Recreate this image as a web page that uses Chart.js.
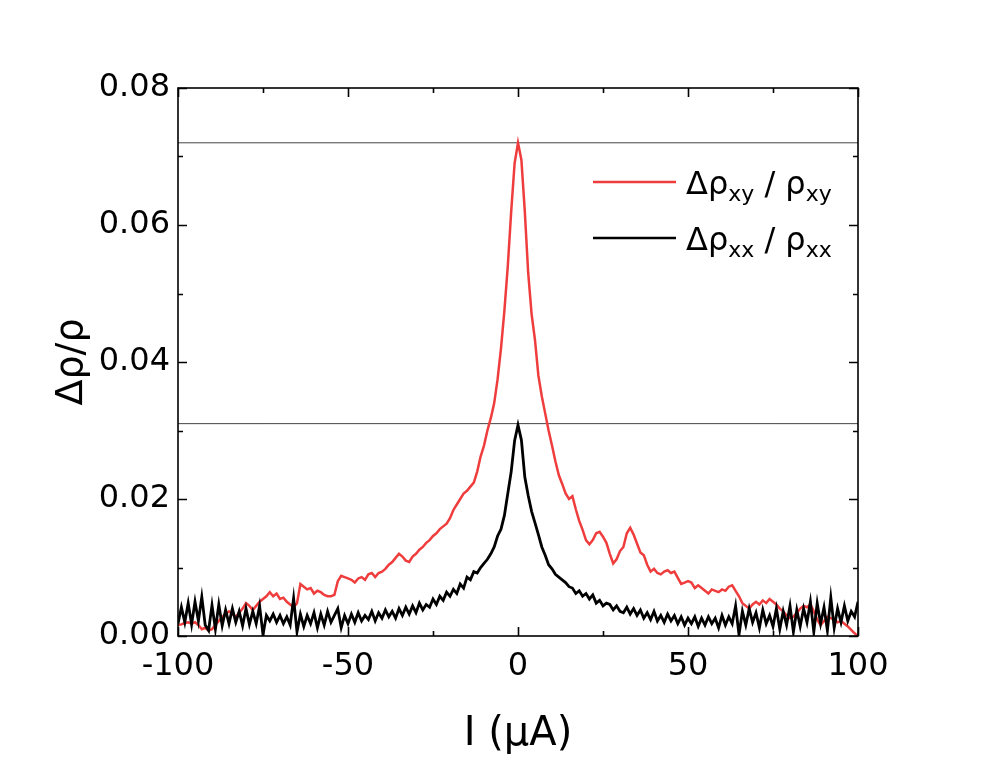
<!DOCTYPE html>
<html>
<head>
<meta charset="utf-8">
<title>Δρ/ρ vs I</title>
<script src="https://cdn.jsdelivr.net/npm/chart.js@4.4.1/dist/chart.umd.min.js"></script>
<style>
  html, body { margin: 0; padding: 0; background: #fff; }
  #wrap { width: 997px; height: 763px; position: relative; }
</style>
</head>
<body>
<div id="wrap"><canvas id="chart" width="997" height="763"></canvas></div>
<script>
// current, µA (1 µA steps)
const currents = [
  -100,-99,-98,-97,-96,-95,-94,-93,-92,-91,-90,-89,-88,-87,-86,-85,-84,-83,-82,-81,
  -80,-79,-78,-77,-76,-75,-74,-73,-72,-71,-70,-69,-68,-67,-66,-65,-64,-63,-62,-61,
  -60,-59,-58,-57,-56,-55,-54,-53,-52,-51,-50,-49,-48,-47,-46,-45,-44,-43,-42,-41,
  -40,-39,-38,-37,-36,-35,-34,-33,-32,-31,-30,-29,-28,-27,-26,-25,-24,-23,-22,-21,
  -20,-19,-18,-17,-16,-15,-14,-13,-12,-11,-10,-9,-8,-7,-6,-5,-4,-3,-2,-1,
  0,1,2,3,4,5,6,7,8,9,10,11,12,13,14,15,16,17,18,19,
  20,21,22,23,24,25,26,27,28,29,30,31,32,33,34,35,36,37,38,39,
  40,41,42,43,44,45,46,47,48,49,50,51,52,53,54,55,56,57,58,59,
  60,61,62,63,64,65,66,67,68,69,70,71,72,73,74,75,76,77,78,79,
  80,81,82,83,84,85,86,87,88,89,90,91,92,93,94,95,96,97,98,99,
  100
];

// Δρxy / ρxy
const rhoXY = [
  0.0016,0.0017,0.0019,0.0020,0.0018,0.0020,0.0016,0.0010,0.0012,0.0008,
  0.0010,0.0016,0.0022,0.0028,0.0032,0.0036,0.0032,0.0028,0.0034,0.0040,
  0.0048,0.0044,0.0038,0.0044,0.0050,0.0054,0.0058,0.0064,0.0058,0.0062,
  0.0054,0.0056,0.0050,0.0046,0.0042,0.0048,0.0076,0.0072,0.0068,0.0070,
  0.0062,0.0066,0.0064,0.0060,0.0058,0.0058,0.0060,0.0080,0.0088,0.0086,
  0.0084,0.0082,0.0078,0.0084,0.0086,0.0082,0.0090,0.0092,0.0086,0.0092,
  0.0094,0.0098,0.0104,0.0108,0.0114,0.0120,0.0116,0.0110,0.0108,0.0116,
  0.0120,0.0126,0.0130,0.0136,0.0140,0.0146,0.0150,0.0156,0.0160,0.0164,
  0.0172,0.0184,0.0192,0.0200,0.0208,0.0212,0.0218,0.0224,0.0240,0.0262,
  0.0278,0.0300,0.0318,0.0340,0.0375,0.0420,0.0475,0.0540,0.0620,0.0690,
  0.0720,
  0.0695,0.0620,0.0530,0.0470,0.0432,0.0380,0.0350,0.0325,0.0300,0.0278,
  0.0255,0.0235,0.0222,0.0208,0.0200,0.0204,0.0185,0.0168,0.0155,0.0140,
  0.0134,0.0140,0.0150,0.0152,0.0145,0.0136,0.0120,0.0106,0.0112,0.0124,
  0.0130,0.0150,0.0158,0.0148,0.0135,0.0122,0.0118,0.0104,0.0094,0.0098,
  0.0092,0.0090,0.0094,0.0096,0.0092,0.0094,0.0085,0.0076,0.0078,0.0080,
  0.0078,0.0070,0.0074,0.0070,0.0066,0.0062,0.0068,0.0066,0.0064,0.0068,
  0.0066,0.0072,0.0074,0.0066,0.0058,0.0048,0.0044,0.0040,0.0046,0.0050,
  0.0046,0.0052,0.0048,0.0054,0.0050,0.0046,0.0040,0.0036,0.0030,0.0026,
  0.0028,0.0034,0.0040,0.0044,0.0042,0.0046,0.0036,0.0024,0.0016,0.0022,
  0.0028,0.0026,0.0024,0.0020,0.0022,0.0018,0.0014,0.0009,0.0004,0.0000
];

// Δρxx / ρxx
const rhoXX = [
  0.0018,0.0042,0.0020,0.0048,0.0017,0.0050,0.0022,0.0057,0.0016,0.0008,
  0.0045,0.0010,0.0046,0.0015,0.0038,0.0018,0.0040,0.0020,0.0036,0.0015,
  0.0040,0.0017,0.0036,0.0018,0.0044,0.0002,0.0030,0.0022,0.0032,0.0020,
  0.0030,0.0018,0.0028,0.0016,0.0055,0.0006,0.0032,0.0014,0.0030,0.0018,
  0.0034,0.0012,0.0032,0.0016,0.0036,0.0020,0.0030,0.0040,0.0012,0.0030,
  0.0018,0.0032,0.0020,0.0034,0.0022,0.0030,0.0024,0.0036,0.0022,0.0034,
  0.0026,0.0038,0.0028,0.0036,0.0026,0.0040,0.0030,0.0042,0.0032,0.0044,
  0.0034,0.0048,0.0038,0.0046,0.0042,0.0054,0.0046,0.0058,0.0052,0.0064,
  0.0058,0.0068,0.0062,0.0076,0.0070,0.0086,0.0082,0.0094,0.0092,0.0100,
  0.0106,0.0112,0.0120,0.0130,0.0146,0.0156,0.0176,0.0208,0.0240,0.0285,
  0.0308,
  0.0286,0.0232,0.0205,0.0182,0.0165,0.0148,0.0130,0.0118,0.0104,0.0098,
  0.0090,0.0086,0.0082,0.0078,0.0072,0.0070,0.0062,0.0066,0.0058,0.0062,
  0.0054,0.0060,0.0048,0.0052,0.0044,0.0048,0.0046,0.0038,0.0044,0.0036,
  0.0034,0.0042,0.0032,0.0040,0.0030,0.0038,0.0026,0.0034,0.0024,0.0036,
  0.0022,0.0030,0.0020,0.0032,0.0022,0.0030,0.0018,0.0028,0.0016,0.0026,
  0.0018,0.0028,0.0014,0.0026,0.0016,0.0028,0.0018,0.0026,0.0012,0.0030,
  0.0016,0.0028,0.0018,0.0044,0.0002,0.0036,0.0016,0.0040,0.0020,0.0034,
  0.0012,0.0038,0.0018,0.0030,0.0014,0.0040,0.0010,0.0036,0.0016,0.0044,
  0.0006,0.0038,0.0014,0.0040,0.0020,0.0050,0.0006,0.0048,0.0018,0.0042,
  0.0008,0.0056,0.0012,0.0040,0.0020,0.0044,0.0022,0.0036,0.0028,0.0050
];

// horizontal guide lines at the two peak heights
const refLevels = [0.072, 0.031];

const xMajorTicks = [-100, -50, 0, 50, 100];
const xMinorTicks = [-75, -25, 25, 75];
const yMajorTicks = [0, 0.02, 0.04, 0.06, 0.08];
const yMinorTicks = [0.01, 0.03, 0.05, 0.07];

const FONT = "'DejaVu Sans', 'Liberation Sans', sans-serif";
const RED = '#ef3d3d';

const toPoints = (ys) => ys.map((v, i) => ({ x: currents[i], y: v }));

// frame with inward ticks on all four sides
const framePlugin = {
  id: 'frame',
  afterDatasetsDraw(chart) {
    const { ctx, chartArea: a, scales: { x, y } } = chart;
    ctx.save();
    ctx.strokeStyle = '#000';
    ctx.lineWidth = 1.6;
    ctx.strokeRect(a.left, a.top, a.right - a.left, a.bottom - a.top);
    ctx.beginPath();
    const xt = (v, len) => {
      const px = Math.round(x.getPixelForValue(v)) + 0.5;
      ctx.moveTo(px, a.bottom); ctx.lineTo(px, a.bottom - len);
      ctx.moveTo(px, a.top); ctx.lineTo(px, a.top + len);
    };
    const yt = (v, len) => {
      const py = Math.round(y.getPixelForValue(v)) + 0.5;
      ctx.moveTo(a.left, py); ctx.lineTo(a.left + len, py);
      ctx.moveTo(a.right, py); ctx.lineTo(a.right - len, py);
    };
    xMajorTicks.forEach((v) => xt(v, 9));
    xMinorTicks.forEach((v) => xt(v, 5));
    yMajorTicks.forEach((v) => yt(v, 9));
    yMinorTicks.forEach((v) => yt(v, 5));
    ctx.stroke();
    ctx.restore();
  },
};

// legend with subscripts
const legendPlugin = {
  id: 'subLegend',
  afterDraw(chart) {
    const { ctx } = chart;
    const items = [
      { color: RED, sub: 'xy', y: 182 },
      { color: '#000', sub: 'xx', y: 238 },
    ];
    ctx.save();
    items.forEach((it) => {
      ctx.strokeStyle = it.color;
      ctx.lineWidth = 2.5;
      ctx.beginPath();
      ctx.moveTo(593, it.y);
      ctx.lineTo(676, it.y);
      ctx.stroke();
      ctx.fillStyle = '#000';
      ctx.textBaseline = 'alphabetic';
      let cx = 686;
      const base = it.y + 12;
      const part = (txt, size, dy) => {
        ctx.font = size + 'px ' + FONT;
        ctx.fillText(txt, cx, base + dy);
        cx += ctx.measureText(txt).width;
      };
      part('Δρ', 32, 0);
      part(it.sub, 22, 7);
      part(' / ρ', 32, 0);
      part(it.sub, 22, 7);
    });
    ctx.restore();
  },
};

new Chart(document.getElementById('chart'), {
  type: 'line',
  data: {
    datasets: [
      {
        label: 'Δρxx / ρxx',
        data: toPoints(rhoXX),
        borderColor: '#000',
        borderWidth: 2.8,
        pointRadius: 0,
        order: 0,
      },
      {
        label: 'Δρxy / ρxy',
        data: toPoints(rhoXY),
        borderColor: RED,
        borderWidth: 2.5,
        pointRadius: 0,
        order: 1,
      },
      ...refLevels.map((lvl) => ({
        label: 'ref',
        data: [{ x: -100, y: lvl }, { x: 100, y: lvl }],
        borderColor: '#444',
        borderWidth: 1,
        pointRadius: 0,
        order: 2,
      })),
    ],
  },
  options: {
    responsive: false,
    animation: false,
    layout: { padding: { left: 45, right: 139, top: 88, bottom: 0 } },
    plugins: { legend: { display: false }, tooltip: { enabled: false } },
    scales: {
      x: {
        type: 'linear',
        min: -100,
        max: 100,
        afterFit: (s) => { s.height = 127; },
        afterBuildTicks: (s) => { s.ticks = xMajorTicks.map((v) => ({ value: v })); },
        grid: { display: false, drawTicks: false },
        border: { display: false },
        ticks: { color: '#000', padding: 11, font: { family: FONT, size: 32 }, maxRotation: 0 },
        title: { display: true, text: 'I (μA)', color: '#000', font: { family: FONT, size: 40 } },
      },
      y: {
        type: 'linear',
        min: 0,
        max: 0.08,
        afterFit: (s) => { s.width = 133; },
        afterBuildTicks: (s) => { s.ticks = yMajorTicks.map((v) => ({ value: v })); },
        grid: { display: false, drawTicks: false },
        border: { display: false },
        ticks: {
          color: '#000',
          padding: 8,
          font: { family: FONT, size: 32 },
          callback: (v) => v.toFixed(2),
        },
        title: { display: true, text: 'Δρ/ρ', color: '#000', font: { family: FONT, size: 38 } },
      },
    },
  },
  plugins: [framePlugin, legendPlugin],
});
</script>
</body>
</html>
